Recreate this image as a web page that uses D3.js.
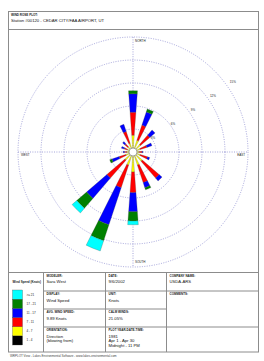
<!DOCTYPE html>
<html lang="en">
<head>
<meta charset="UTF-8">
<title>Wind Rose Plot</title>
<script src="https://d3js.org/d3.v7.min.js"></script>
<style>
  body { margin: 0; background: #fff; font-family: "Liberation Sans", Arial, sans-serif; }
  svg { display: block; }
  .frame { fill: none; stroke: #8c8c8c; stroke-width: 1; }
  .grid { fill: none; stroke: #8e8ed0; stroke-width: 0.8; stroke-dasharray: 1 1.4; }
  .tiny { font-size: 3px; fill: #222; }
  .val { font-size: 4.2px; fill: #111; }
</style>
</head>
<body>
<svg id="rose" width="264" height="361"></svg>
<script>
// directions (blowing from), percent of all hours per speed class
const directions = ["N","NNE","NE","ENE","E","ESE","SE","SSE","S","SSW","SW","WSW","W","WNW","NW","NNW"];
const speedClasses = ["1 - 4", "4 - 7", "7 - 11", "11 - 17", "17 - 21", ">= 21"];
const ws1to4   = [0.3,0.3,0.3,0.3,0.3,0.3,0.3,0.3,0.3,0.3,0.3,0.3,0.3,0.3,0.3,0.3];
const ws4to7   = [1.9,1.3,1.0,0.7,0.5,0.7,1.3,1.5,2.3,1.5,1.1,0.7,0.5,0.5,0.6,0.9];
const ws7to11  = [3.0,2.1,1.6,0.9,0.4,1.0,2.9,2.4,2.7,3.1,3.1,0.9,0.3,0.4,0.5,1.6];
const ws11to17 = [2.4,1.8,0.9,0.7,0.1,0.3,0.5,0.7,2.5,5.1,3.5,1.0,0.2,0.4,0.4,1.0];
const ws17to21 = [0.4,0.4,0.0,0.0,0.0,0.0,0.0,0.3,1.2,2.2,1.7,0.3,0.0,0.0,0.0,0.0];
const ws21up   = [0.0,0.0,0.0,0.0,0.0,0.0,0.0,0.0,0.5,1.4,0.8,0.0,0.0,0.0,0.0,0.0];
const ringTicks = [3, 6, 9, 12, 15];
const ringLabels = ["3%", "6%", "9%", "12%", "15%"];

const series = [ws1to4, ws4to7, ws7to11, ws11to17, ws17to21, ws21up];
const colors = ["#000000", "#ffff00", "#ff0000", "#0000ff", "#008000", "#00ffff"];

const svg = d3.select("#rose");
const cx = 133, cy = 152;

// outer frame + dividers
svg.append("rect").attr("class", "frame").attr("x", 8.5).attr("y", 11.5).attr("width", 250).attr("height", 340.5);
svg.append("line").attr("class", "frame").attr("x1", 8.5).attr("x2", 258.5).attr("y1", 29.5).attr("y2", 29.5);

svg.append("text").attr("class", "tiny").attr("x", 11).attr("y", 15.5).style("font-weight", "bold").text("WIND ROSE PLOT:");
svg.append("text").attr("x", 11).attr("y", 22).style("font-size", "4.2px").attr("fill", "#111")
  .text("Station #00120 - CEDAR CITY/FAA AIRPORT, UT");

// rose
const r = d3.scaleLinear().domain([0, 15]).range([0, 115]);
const angle = d3.scaleBand().domain(directions).range([0, 2 * Math.PI]).align(0.5);
const half = 4.2 * Math.PI / 180;
const g = svg.append("g").attr("transform", `translate(${cx},${cy})`);

g.selectAll("circle.grid").data(ringTicks).join("circle")
  .attr("class", "grid").attr("r", d => r(d));
g.append("line").attr("class", "grid").attr("x1", -r(15)).attr("x2", r(15));
g.append("line").attr("class", "grid").attr("y1", -r(15)).attr("y2", r(15));

const stack = directions.map((dir, i) => {
  let acc = 0;
  return series.map((s, k) => {
    const seg = { dir, k, r0: acc, r1: acc + s[i] };
    acc += s[i];
    return seg;
  }).filter(d => d.r1 > d.r0);
}).flat();

const arc = d3.arc()
  .innerRadius(d => r(d.r0))
  .outerRadius(d => r(d.r1))
  .startAngle(d => angle(d.dir) + angle.bandwidth() / 2 - half - angle.bandwidth() / 2)
  .endAngle(d => angle(d.dir) + half);

g.selectAll("path.petal").data(stack).join("path")
  .attr("class", "petal")
  .attr("d", arc)
  .attr("fill", d => colors[d.k])
  .attr("stroke", "#444").attr("stroke-width", 0.25);

g.append("circle").attr("r", 4).attr("fill", "#fff").attr("stroke", "#555").attr("stroke-width", 0.5);

const la = 55 * Math.PI / 180;
g.selectAll("text.ring").data(ringTicks).join("text")
  .attr("class", "tiny")
  .attr("x", d => Math.sin(la) * r(d) * 1.06)
  .attr("y", d => -Math.cos(la) * r(d) * 1.06)
  .attr("text-anchor", "middle").attr("dy", "0.35em")
  .text((d, i) => ringLabels[i]);

g.append("text").attr("class", "tiny").attr("x", 2).attr("y", -r(15) + 4.5).text("NORTH");
g.append("text").attr("class", "tiny").attr("x", 2).attr("y", r(15) - 4.5).text("SOUTH");
g.append("text").attr("class", "tiny").attr("x", -r(15) + 3).attr("y", 4).text("WEST");
g.append("text").attr("class", "tiny").attr("x", r(15) - 3).attr("y", 4).attr("text-anchor", "end").text("EAST");

// info table
const ty = [272.5, 291, 309, 327, 352];
const tx = [8.5, 43.5, 105.5, 166.5, 258.5];
svg.append("line").attr("class", "frame").attr("x1", tx[0]).attr("x2", tx[4]).attr("y1", ty[0]).attr("y2", ty[0]);
[1, 2, 3].forEach(c => svg.append("line").attr("class", "frame")
  .attr("x1", tx[c]).attr("x2", tx[c]).attr("y1", ty[0]).attr("y2", ty[4]));
svg.append("line").attr("class", "frame").attr("x1", tx[1]).attr("x2", tx[4]).attr("y1", ty[1]).attr("y2", ty[1]);
svg.append("line").attr("class", "frame").attr("x1", tx[1]).attr("x2", tx[3]).attr("y1", ty[2]).attr("y2", ty[2]);
svg.append("line").attr("class", "frame").attr("x1", tx[1]).attr("x2", tx[4]).attr("y1", ty[3]).attr("y2", ty[3]);

const cells = [
  [1, 0, "MODELER:", ["Sara West"]],
  [1, 1, "DISPLAY:", ["Wind Speed"]],
  [1, 2, "AVG. WIND SPEED:", ["9.89 Knots"]],
  [1, 3, "ORIENTATION:", ["Direction", "(blowing from)"]],
  [2, 0, "DATE:", ["9/6/2002"]],
  [2, 1, "UNIT:", ["Knots"]],
  [2, 2, "CALM WINDS:", ["21.05%"]],
  [2, 3, "PLOT YEAR-DATE-TIME:", ["1981", "Apr 1 - Apr 30", "Midnight - 11 PM"]],
  [3, 0, "COMPANY NAME:", ["USDA-ARS"]],
  [3, 1, "COMMENTS:", []]
];
cells.forEach(([c, row, label, lines]) => {
  const x = tx[c] + 3, y = ty[row];
  svg.append("text").attr("class", "tiny").attr("x", x).attr("y", y + 4).style("font-weight", "bold").text(label);
  lines.forEach((t, i) => svg.append("text").attr("class", "val")
    .attr("x", x).attr("y", y + 10.5 + i * 4.7).text(t));
});

// legend
svg.append("text").attr("class", "tiny").attr("x", 12.5).attr("y", 283).style("font-weight", "bold").text("Wind Speed (Knots)");
const ly = d3.scaleBand().domain(d3.range(6).reverse()).range([290, 345]);
svg.selectAll("rect.key").data(d3.range(6)).join("rect")
  .attr("x", 12.5).attr("y", d => ly(d)).attr("width", 10).attr("height", ly.bandwidth())
  .attr("fill", d => colors[d]).attr("stroke", "#444").attr("stroke-width", 0.3);
svg.selectAll("text.key").data(d3.range(6)).join("text")
  .attr("class", "tiny").attr("x", 26.5).attr("y", d => ly(d) + ly.bandwidth() / 2 + 1)
  .text(d => speedClasses[d]);

svg.append("text").attr("x", 10).attr("y", 356.5).style("font-size", "3px").attr("fill", "#444")
  .text("WRPLOT View - Lakes Environmental Software - www.lakes-environmental.com");
</script>
</body>
</html>
